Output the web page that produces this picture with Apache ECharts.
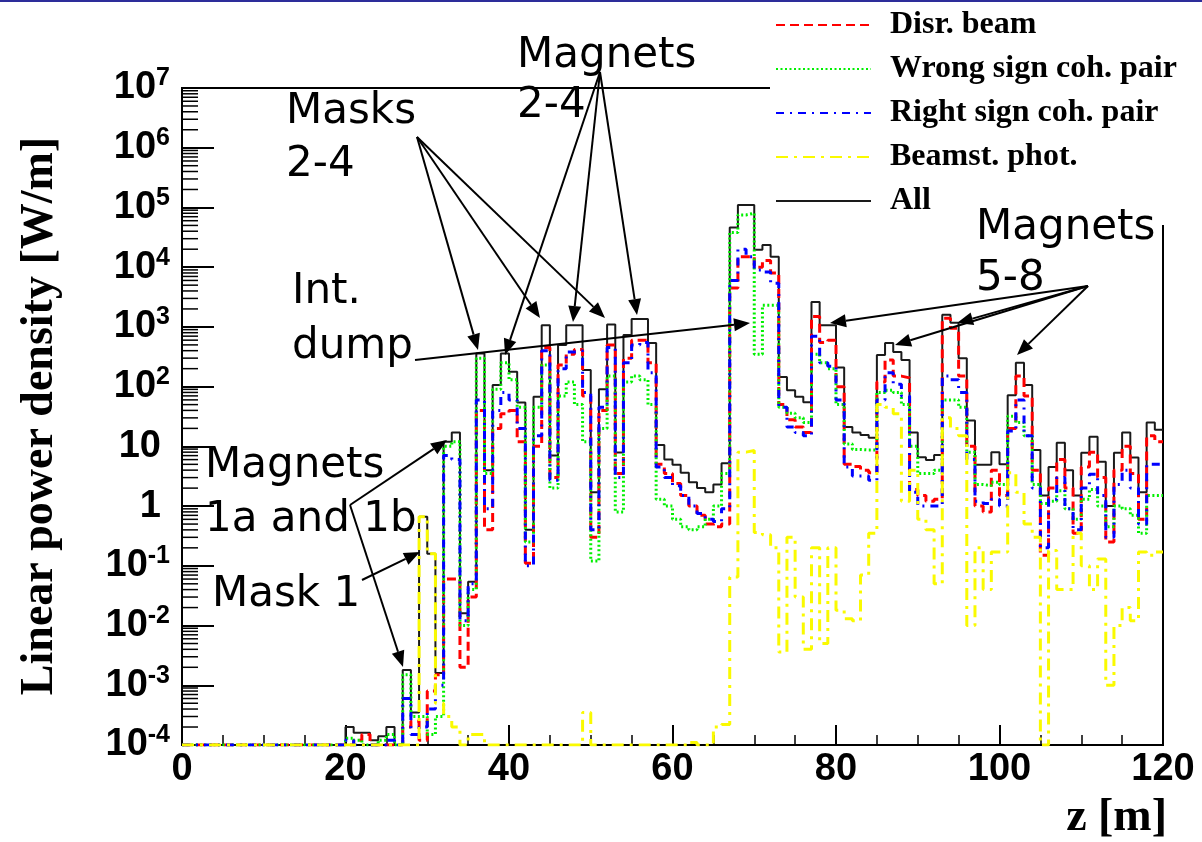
<!DOCTYPE html>
<html><head><meta charset="utf-8">
<script src="https://cdn.jsdelivr.net/npm/echarts@6/dist/echarts.min.js"></script>
<style>html,body{margin:0;padding:0;background:#fff}#c{width:1202px;height:842px}</style>
</head><body><div id="c"></div>
<script>
// Linear power density per 1 m bin of z (W/m); bins 0..119 (lower edges 0..119 m)
const binLowEdges = Array.from({length: 120}, (_, i) => i);
const F = 1e-4; // empty bins drawn at the bottom of the log axis

const allPower = [
 F,F,F,F,F,F,F,F,F,F, F,F,F,F,F,F,F,F,F,F,
 2e-4,1.6e-4,1.6e-4,1.2e-4,1.4e-4,2e-4,1e-4,1.8e-3,3.5e-4,0.66,
 0.16,1.6e-3,12,17,0.016,0.054,360,4,107,360,
 178,54,0.4,68,1070,7,500,1070,1070,190,
 1.7,90,1100,7.9,730,1350,1350,540,10.5,6,
 4.9,3.6,2.5,2.0,1.7,2.3,5.2,46000,110000,110000,
 19500,23500,15000,145,87,68,55,2600,1070,1070,
 210,21,17,15.5,14,340,540,380,280,17,
 6.6,5.9,7.2,1600,1170,300,27,4.9,4.9,8,
 5,72,250,107,8.7,1.5,4.5,11.5,4,1.5,
 7.8,14.5,5.5,1,7.8,17,6.5,1.7,25,19];

const disrBeam = [
 F,F,F,F,F,F,F,F,F,F, F,F,F,F,F,F,F,F,F,F,
 1e-4,1.2e-4,1.5e-4,1e-4,1e-4,1e-4,1e-4,2e-4,2.5e-4,1.2e-4,
 8e-4,1.5e-3,0.06,0.06,2e-3,0.03,40,0.4,20,35,
 40,12,0.11,10,450,3,230,350,420,70,
 0.3,40,500,3.5,300,600,600,250,5,3.5,
 2.4,1.5,1.0,0.7,0.5,0.45,0.5,4500,15000,15000,
 10000,13000,8000,50,28,21,17,1500,550,600,
 100,5,4.6,4,3.6,120,280,150,140,1.9,
 1.5,1.2,1.3,1400,950,150,10,1.0,0.8,4,
 1.5,20,150,70,4,0.15,2,6,2,0.35,
 4.5,8,3,0.25,4,10,3.5,0.6,15,12];

const wrongSignPair = [
 F,F,F,F,F,F,F,F,F,F, F,F,F,F,F,F,F,F,F,F,
 1.3e-4,1.2e-4,1e-4,1e-4,1.2e-4,1.5e-4,1e-4,1.5e-3,3e-4,3e-4,
 1.5e-4,3e-4,10,12,0.01,0.04,300,3.5,90,250,
 130,45,0.25,45,230,2,70,120,50,12,
 0.12,20,150,0.8,120,150,130,50,1.3,1.0,
 0.6,0.45,0.4,0.45,0.6,1.0,3.5,38000,75000,80000,
 350,2300,2300,45,36,30,25,350,250,200,
 50,11,8.9,8.7,8.7,80,87,80,50,10,
 3.5,3.5,4,60,60,45,8,2.3,2.2,2.5,
 2.3,32,25,15,2.3,1.1,1.2,1.8,0.9,0.6,
 1.3,1.9,1.0,0.45,1.0,0.9,0.7,0.35,1.5,1.5];

const rightSignPair = [
 F,F,F,F,F,F,F,F,F,F, F,F,F,F,F,F,F,F,F,F,
 1.2e-4,1e-4,1e-4,1e-4,1e-4,1.2e-4,1e-4,6e-4,1.5e-4,2e-4,
 4e-4,1e-3,7,6,0.012,0.05,60,0.9,40,80,
 60,20,0.1,15,400,2.7,200,380,400,80,
 0.4,45,450,3,250,500,550,170,4.5,3.0,
 2.2,1.5,1.0,0.75,0.6,0.55,0.9,6000,20000,15000,
 9000,8300,5400,45,21,17,15,700,250,220,
 60,4.5,3.2,3.2,2.7,60,170,110,70,1.7,
 1.0,1.0,1.0,150,130,80,6,1.2,1.1,1.3,
 1.0,18,60,15,2,0.2,1.3,3,0.9,0.4,
 2,3.4,1.5,0.3,2.3,4,2,0.5,5,5];

const beamstPhot = [
 F,F,F,F,F,F,F,F,F,F, F,F,F,F,F,F,F,F,F,F,
 F,F,F,F,F,F,F,F,F,0.66,
 0.16,5e-4,3e-4,2e-4,1e-4,1.5e-4,1.5e-4,F,F,F,
 F,F,F,F,F,F,F,F,F,3.5e-4,
 F,F,F,F,F,F,F,F,F,F,
 F,F,1.1e-4,F,F,2e-4,2.2e-4,0.065,8,8.5,
 0.36,0.33,0.2,0.0036,0.3,0.03,0.004,0.2,0.005,0.2,
 0.018,0.013,0.012,0.07,0.35,50,45,35,1.2,4,
 0.6,0.4,0.05,30,20,15,0.01,0.2,0.04,0.17,
 0.17,3.6,1.7,0.5,0.3,1e-4,0.18,0.04,0.04,0.35,
 0.1,0.04,0.13,1e-3,0.01,0.02,0.012,0.17,0.15,0.17];

const legendNames = ['Disr. beam','Wrong sign coh. pair','Right sign coh. pair','Beamst. phot.','All'];
const yMin = 1e-4, yMax = 1e7, xMin = 0, xMax = 120;

function histData(vals) {
  const d = binLowEdges.map((x, i) => [x, vals[i]]);
  d.push([binLowEdges[binLowEdges.length - 1] + 1, vals[vals.length - 1]]);
  return d;
}

const styles = {
  'All': {color: '#1a1a1a', width: 2, type: 'solid', data: allPower},
  'Disr. beam': {color: '#ff0000', width: 3, type: [9, 5], data: disrBeam},
  'Wrong sign coh. pair': {color: '#00f000', width: 3, type: [2, 2.5], data: wrongSignPair},
  'Right sign coh. pair': {color: '#0000ff', width: 3, type: [8, 6, 2, 6], data: rightSignPair},
  'Beamst. phot.': {color: '#fafa00', width: 3, type: [12, 6, 3, 6], data: beamstPhot}
};
const drawOrder = ['All','Disr. beam','Wrong sign coh. pair','Right sign coh. pair','Beamst. phot.'];

const series = drawOrder.map((n, k) => ({
  name: n, type: 'line', step: 'end', symbol: 'none', showSymbol: false,
  data: histData(styles[n].data), clip: true, z: 2 + k,
  lineStyle: {color: styles[n].color, width: styles[n].width, type: styles[n].type},
  itemStyle: {color: styles[n].color}
}));

// minor ticks on log axis (2..9 per decade)
const minorTickVals = [];
for (let e = -4; e < 7; e++) for (let k = 2; k <= 9; k++) minorTickVals.push(k * Math.pow(10, e));
series.push({
  type: 'custom', silent: true, z: 10, clip: false,
  data: minorTickVals.map(v => [xMin, v]),
  renderItem: (params, api) => {
    const p = api.coord([api.value(0), api.value(1)]);
    return {type: 'line', shape: {x1: p[0], y1: p[1], x2: p[0] + 16, y2: p[1]},
            style: {stroke: '#000', lineWidth: 1.5}};
  }
});

const chart = echarts.init(document.getElementById('c'), null, {renderer: 'canvas'});

const sansLbl = {fontFamily: 'Liberation Sans', fontWeight: 'bold', color: '#000'};

// annotations
const annTexts = [
  ['Magnets', 517, 56], ['2-4', 517, 106],
  ['Masks', 286, 112], ['2-4', 286, 165],
  ['Int.', 292, 292], ['dump', 292, 347],
  ['Magnets', 205, 466], ['1a and 1b', 205, 520],
  ['Mask 1', 212, 595],
  ['Magnets', 976, 228], ['5-8', 976, 279]
];
const arrows = [
  [417,137,478,350],[417,137,540,318],[417,137,605,318],
  [600,72,505,355],[600,72,573,322],[600,72,637,315],
  [415,360,750,323],
  [350,505,447,440],[350,505,403,667],
  [362,580,420,552],
  [1088,286,830,323],[1088,286,895,345],[1088,286,957,323],[1088,286,1017,355]
];
const graphics = [];
graphics.push({type: 'rect', shape: {x: 0, y: 0, width: 1202, height: 2}, style: {fill: '#2d2d9a'}, z: 200});
annTexts.forEach(t => graphics.push({
  type: 'text', x: t[1], y: t[2], z: 150,
  style: {text: t[0], verticalAlign: 'middle', align: 'left', font: '42px "DejaVu Sans"', fill: '#000'}
}));
arrows.forEach(a => {
  const [x1, y1, x2, y2] = a;
  const dx = x2 - x1, dy = y2 - y1, L = Math.hypot(dx, dy);
  const ux = dx / L, uy = dy / L, hl = 16, hw = 6.5;
  const bx = x2 - ux * hl, by = y2 - uy * hl;
  graphics.push({type: 'line', z: 140, shape: {x1, y1, x2: bx, y2: by}, style: {stroke: '#000', lineWidth: 2}});
  graphics.push({type: 'polygon', z: 140, shape: {points: [[x2, y2], [bx - uy * hw, by + ux * hw], [bx + uy * hw, by - ux * hw]]}, style: {fill: '#000'}});
});
graphics.push({type: 'text', x: 40, y: 416, rotation: Math.PI / 2, z: 150,
  style: {text: 'Linear power density [W/m]', font: 'bold 46px "Liberation Serif"', fill: '#000', align: 'center', verticalAlign: 'middle'}});
graphics.push({type: 'text', x: 1167, y: 818, z: 150,
  style: {text: 'z [m]', font: 'bold 46px "Liberation Serif"', fill: '#000', align: 'right', verticalAlign: 'middle'}});

chart.setOption({
  animation: false,
  backgroundColor: '#fff',
  grid: {left: 182, right: 39, top: 88, bottom: 97, show: true, borderColor: '#000', borderWidth: 2, backgroundColor: 'transparent'},
  legend: {
    orient: 'vertical', left: 770, top: 0, padding: [9, 10, 8, 5],
    itemWidth: 95, itemHeight: 14, itemGap: 12, backgroundColor: '#fff', z: 20,
    selectedMode: false, data: legendNames,
    itemStyle: {color: 'rgba(0,0,0,0)', borderWidth: 0, opacity: 0},
    textStyle: {fontFamily: 'Liberation Serif', fontWeight: 'bold', fontSize: 32, color: '#000', lineHeight: 32, padding: [0, 0, 0, 14]}
  },
  xAxis: {
    type: 'value', min: xMin, max: xMax, interval: 20,
    axisLine: {lineStyle: {color: '#000', width: 2}},
    axisTick: {inside: true, length: 20, lineStyle: {color: '#000', width: 2}},
    minorTick: {show: true, splitNumber: 4, length: 10, lineStyle: {color: '#000', width: 1.5}},
    splitLine: {show: false},
    axisLabel: Object.assign({fontSize: 38, margin: 6}, sansLbl)
  },
  yAxis: {
    type: 'log', logBase: 10, min: yMin, max: yMax, interval: 1,
    axisLine: {lineStyle: {color: '#000', width: 2}},
    axisTick: {inside: true, length: 32, lineStyle: {color: '#000', width: 2}},
    splitLine: {show: false},
    axisLabel: {
      margin: 12,
      formatter: v => {
        const e = Math.round(Math.log10(v));
        if (e === 0) return '{p|1}';
        if (e === 1) return '{p|10}';
        return '{b|10}{s|' + e + '}';
      },
      rich: {
        b: Object.assign({fontSize: 38, lineHeight: 44, verticalAlign: 'middle'}, sansLbl),
        p: Object.assign({fontSize: 38, lineHeight: 44, verticalAlign: 'middle', padding: [0, 9, 0, 0]}, sansLbl),
        s: Object.assign({fontSize: 25, lineHeight: 24, verticalAlign: 'top'}, sansLbl)
      }
    }
  },
  series: series,
  graphic: graphics
});
</script>
</body></html>
